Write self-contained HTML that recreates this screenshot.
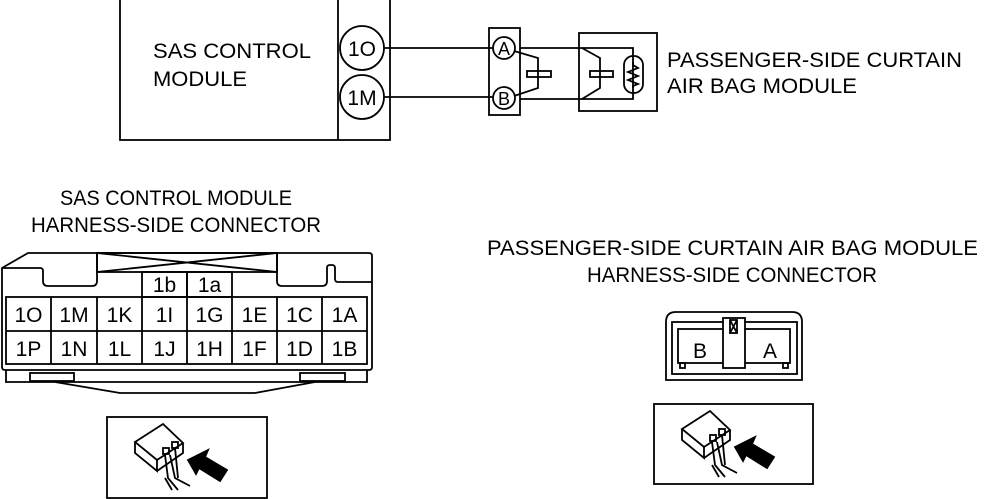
<!DOCTYPE html>
<html><head><meta charset="utf-8"><style>
html,body{margin:0;padding:0;background:#fff;}
svg{display:block;}
text{font-family:"Liberation Sans",Arial,sans-serif;fill:#000;}
</style></head><body>
<svg width="1001" height="499" viewBox="0 0 1001 499" xmlns="http://www.w3.org/2000/svg">
<g fill="none" stroke="#000" stroke-width="1.8">
<rect x="120" y="-2" width="270" height="142"/>
<line x1="338" y1="-2" x2="338" y2="140"/>
<circle cx="362" cy="48" r="22"/>
<circle cx="362" cy="97" r="22"/>
<line x1="384" y1="48" x2="494" y2="48"/>
<line x1="384" y1="97" x2="494" y2="97"/>
<rect x="489" y="28" width="31" height="87"/>
<circle cx="504" cy="48" r="11" fill="#fff"/>
<circle cx="504" cy="98" r="11" fill="#fff"/>
<polyline points="520,48 633,48 633,99 520,99"/>
<polyline points="514,51 538,58 538,88 514,96"/>
<rect x="527" y="71" width="24" height="6"/>
<rect x="579" y="33" width="78" height="78"/>
<polyline points="582,48 600,58 600,88 582,99"/>
<rect x="590" y="71" width="23" height="6"/>
<rect x="624" y="56" width="19" height="37" rx="9"/>
<polyline points="633,62 633,65 638,68 628,72 638,76 628,80 638,84 633,86 633,88"/>
<path d="M2,268 L28,253 L369,253 Q372,253 372,256 L372,367 Q372,370 369,370 L5,370 Q2,370 2,367 Z"/>
<path d="M2,268 L40,268 Q43,268 43,271 L43,281 Q43,286 48,286 L92,286 Q97,286 97,281 L97,253"/>
<path d="M372,282 L338,282 Q335,282 335,279 L335,268 Q335,265 332,265 L330,265 Q327,265 327,268 L327,281 Q327,286 322,286 L282,286 Q277,286 277,281 L277,253"/>
<rect x="97" y="253" width="180" height="19"/>
<line x1="97" y1="253" x2="277" y2="272"/>
<line x1="97" y1="272" x2="277" y2="253"/>
<rect x="142" y="272" width="45" height="25"/>
<rect x="187" y="272" width="45" height="25"/>
<rect x="6" y="297" width="361" height="67"/>
<line x1="6" y1="331" x2="367" y2="331"/>
<line x1="51" y1="297" x2="51" y2="364"/>
<line x1="97" y1="297" x2="97" y2="364"/>
<line x1="142" y1="297" x2="142" y2="364"/>
<line x1="187" y1="297" x2="187" y2="364"/>
<line x1="232" y1="297" x2="232" y2="364"/>
<line x1="277" y1="297" x2="277" y2="364"/>
<line x1="322" y1="297" x2="322" y2="364"/>
<polyline points="6,370 6,382 367,382 367,370"/>
<rect x="30" y="373" width="44" height="8"/>
<rect x="300" y="373" width="45" height="8"/>
<polyline points="55,382 120,393 255,393 315,382"/>
<path d="M666,380 L666,322 Q666,312 676,312 L792,312 Q802,312 802,322 L802,380 Z"/>
<rect x="672" y="322" width="125" height="52"/>
<rect x="678" y="329" width="112" height="34"/>
<rect x="723" y="318" width="22" height="50" fill="#fff"/>
<rect x="730" y="320" width="7" height="13"/>
<line x1="730" y1="320" x2="737" y2="333"/>
<line x1="737" y1="320" x2="730" y2="333"/>
<rect x="680" y="363" width="5" height="5"/>
<rect x="783" y="363" width="5" height="5"/>
<rect x="107" y="417" width="160" height="81"/>
<rect x="654" y="404" width="159" height="80"/>
</g>
<defs>
<g id="ic" fill="none" stroke="#000" stroke-width="1.8">
<path d="M135,442 L163,424 L183,443 L157,460 Z" fill="#fff"/>
<path d="M135,442 L135,453 L157,471 L157,460"/>
<path d="M157,471 L183,453 L183,443"/>
<rect x="163" y="448" width="6" height="6"/>
<rect x="172" y="442" width="6" height="6"/>
<path d="M165,455 L168,478 L178,490 M170,455 L175,478 L190,486 M175,448 L178,478 M165,478 L172,490"/>
<polygon points="188,460 208,450 205,457 227,470 220,481 199,468 196,474" fill="#000"/>
</g>
</defs>
<use href="#ic"/>
<use href="#ic" transform="translate(547,-13)"/>
<g font-size="21">
<text x="153" y="58" textLength="158" lengthAdjust="spacingAndGlyphs">SAS CONTROL</text>
<text x="153" y="86" textLength="94" lengthAdjust="spacingAndGlyphs">MODULE</text>
<text x="362" y="56" text-anchor="middle">1O</text>
<text x="362" y="105" text-anchor="middle">1M</text>
<text x="667" y="67" textLength="295" lengthAdjust="spacingAndGlyphs">PASSENGER-SIDE CURTAIN</text>
<text x="667" y="93" textLength="190" lengthAdjust="spacingAndGlyphs">AIR BAG MODULE</text>
<text x="60" y="205" textLength="232" lengthAdjust="spacingAndGlyphs">SAS CONTROL MODULE</text>
<text x="31" y="232" textLength="290" lengthAdjust="spacingAndGlyphs">HARNESS-SIDE CONNECTOR</text>
<text x="487" y="255" textLength="491" lengthAdjust="spacingAndGlyphs">PASSENGER-SIDE CURTAIN AIR BAG MODULE</text>
<text x="587" y="282" textLength="290" lengthAdjust="spacingAndGlyphs">HARNESS-SIDE CONNECTOR</text>
<text x="700" y="358" text-anchor="middle">B</text>
<text x="770" y="358" text-anchor="middle">A</text>
</g>
<g font-size="18" text-anchor="middle">
<text x="504" y="55">A</text>
<text x="504" y="105">B</text>
</g>
<g font-size="21" text-anchor="middle">
<text x="164.5" y="292">1b</text><text x="209.5" y="292">1a</text>
<text x="28.5" y="322">1O</text><text x="74" y="322">1M</text><text x="119.5" y="322">1K</text><text x="164.5" y="322">1I</text><text x="209.5" y="322">1G</text><text x="254.5" y="322">1E</text><text x="299.5" y="322">1C</text><text x="344.5" y="322">1A</text>
<text x="28.5" y="356">1P</text><text x="74" y="356">1N</text><text x="119.5" y="356">1L</text><text x="164.5" y="356">1J</text><text x="209.5" y="356">1H</text><text x="254.5" y="356">1F</text><text x="299.5" y="356">1D</text><text x="344.5" y="356">1B</text>
</g>
</svg>
</body></html>
